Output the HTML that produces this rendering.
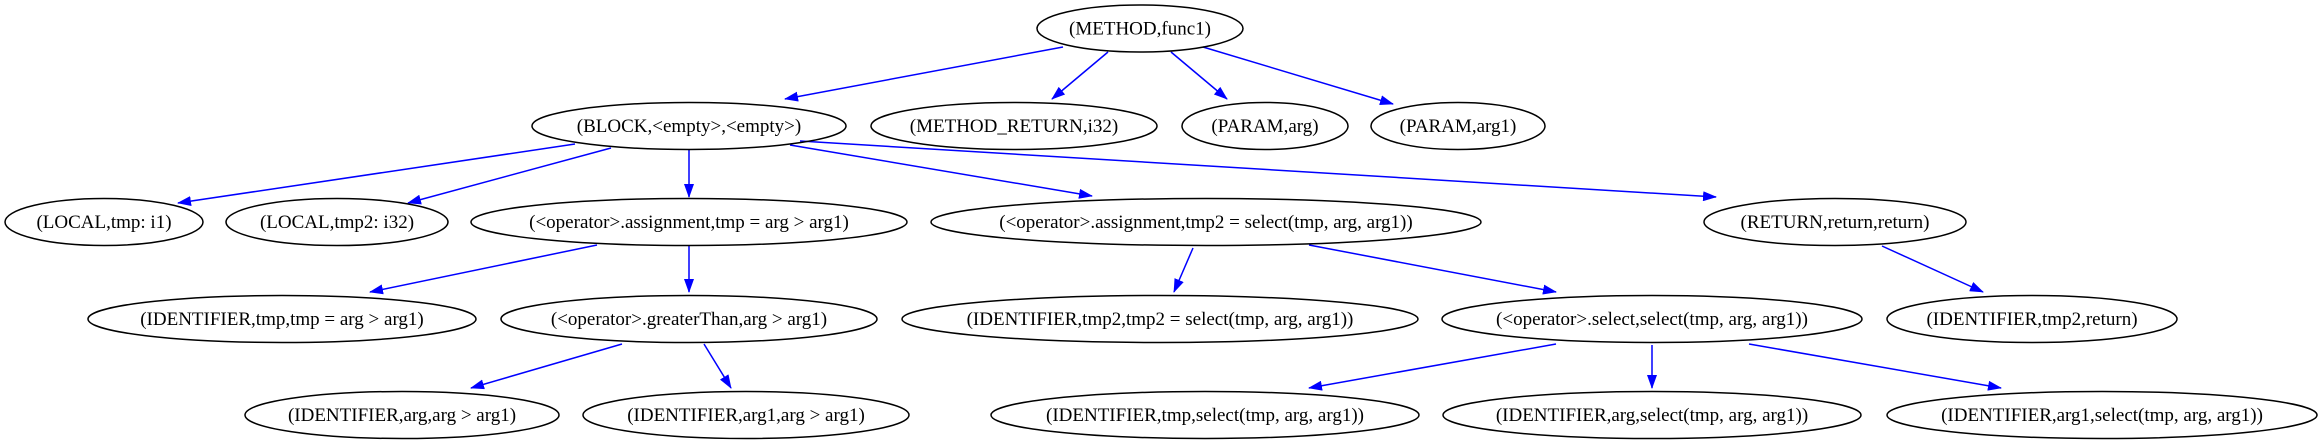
<!DOCTYPE html>
<html><head><meta charset="utf-8"><style>
html,body{margin:0;padding:0;background:#fff;}
svg{display:block;}
text{font-family:"Liberation Serif",serif;font-size:19px;}
</style></head><body>
<svg id="g" width="2324" height="443" viewBox="0 0 2324 443" xmlns="http://www.w3.org/2000/svg">
<defs><marker id="a" markerWidth="14" markerHeight="10" refX="13" refY="5" orient="auto" markerUnits="userSpaceOnUse"><path d="M0,0 L14,5 L0,10 z" fill="#0000ff"/></marker></defs>
<g id="edges"></g>
<g id="nodes"></g>
</svg>
<script>
var N={
m:[1140,28.5,103,"(METHOD,func1)"],
b:[689,126,157,"(BLOCK,<empty>,<empty>)"],
mr:[1014,126,143,"(METHOD_RETURN,i32)"],
p1:[1265,126,83,"(PARAM,arg)"],
p2:[1458,126,87,"(PARAM,arg1)"],
l1:[104,222,99,"(LOCAL,tmp: i1)"],
l2:[337,222,111,"(LOCAL,tmp2: i32)"],
a1:[689,222,218,"(<operator>.assignment,tmp = arg > arg1)"],
a2:[1206,222,275,"(<operator>.assignment,tmp2 = select(tmp, arg, arg1))"],
r:[1835,222,131,"(RETURN,return,return)"],
i1:[282,319,194,"(IDENTIFIER,tmp,tmp = arg > arg1)"],
gt:[689,319,188,"(<operator>.greaterThan,arg > arg1)"],
i2:[1160,319,258,"(IDENTIFIER,tmp2,tmp2 = select(tmp, arg, arg1))"],
s:[1652,319,210,"(<operator>.select,select(tmp, arg, arg1))"],
ir:[2032,319,145,"(IDENTIFIER,tmp2,return)"],
x1:[402,415,157,"(IDENTIFIER,arg,arg > arg1)"],
x2:[746,415,163,"(IDENTIFIER,arg1,arg > arg1)"],
x3:[1205,415,214,"(IDENTIFIER,tmp,select(tmp, arg, arg1))"],
x4:[1652,415,209,"(IDENTIFIER,arg,select(tmp, arg, arg1))"],
x5:[2102,415,215,"(IDENTIFIER,arg1,select(tmp, arg, arg1))"]};
var E=[[1063,47,785,99],[1108,52,1052,99],[1171,52,1227,99],[1203,47,1393,104],
[575,144,178,203],[611,148,408,203],[689,149,689,197],[790,145,1092,196],[800,141,1716,197],
[597,245,370,292],[689,245,689,292],[1193,248,1174,292],[1309,245,1556,292],[1882,246,1983,292],
[622,344,471,388],[704,344,731,388],[1556,344,1309,388],[1652,345,1652,388],[1749,344,2001,388]];
var RY=23.5,ns="http://www.w3.org/2000/svg";
var eg=document.getElementById("edges"),ng=document.getElementById("nodes");
E.forEach(function(e){
var l=document.createElementNS(ns,"line");
l.setAttribute("x1",e[0]);l.setAttribute("y1",e[1]);l.setAttribute("x2",e[2]);l.setAttribute("y2",e[3]);
l.setAttribute("stroke","#0000ff");l.setAttribute("stroke-width","1.5");l.setAttribute("marker-end","url(#a)");eg.appendChild(l);});
for(var k in N){var n=N[k];
var el=document.createElementNS(ns,"ellipse");el.setAttribute("cx",n[0]);el.setAttribute("cy",n[1]);el.setAttribute("rx",n[2]);el.setAttribute("ry",RY);
el.setAttribute("fill","none");el.setAttribute("stroke","#000");el.setAttribute("stroke-width","1.5");ng.appendChild(el);
var tx=document.createElementNS(ns,"text");tx.setAttribute("x",n[0]);tx.setAttribute("y",n[1]+6);tx.setAttribute("text-anchor","middle");tx.textContent=n[3];ng.appendChild(tx);}
</script>
</body></html>
